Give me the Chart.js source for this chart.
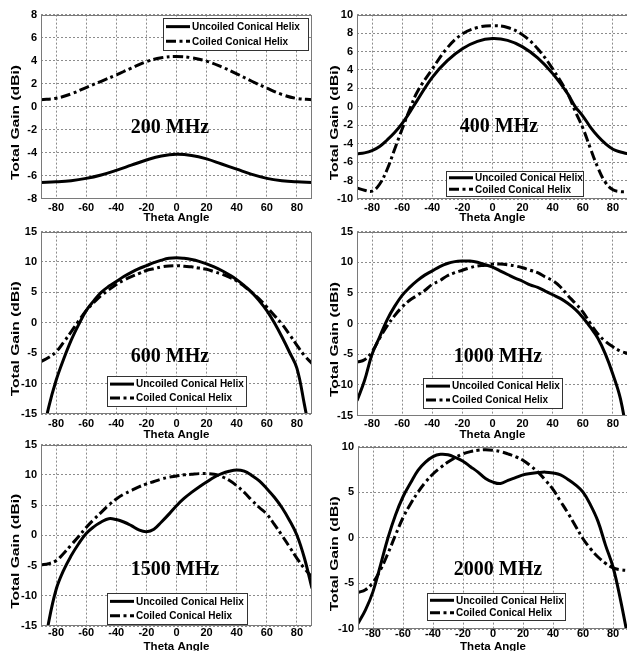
<!DOCTYPE html>
<html>
<head>
<meta charset="utf-8">
<script src="https://cdn.jsdelivr.net/npm/chart.js@4.4.1/dist/chart.umd.min.js"></script>
<style>
  html, body { margin:0; padding:0; background:#ffffff; }
  body { position:relative; width:627px; height:651px; overflow:hidden; }
  canvas { position:absolute; }
</style>
</head>
<body>
<script>
// ---------------- DATA ----------------
const seriesNames = ['Uncoiled Conical Helix', 'Coiled Conical Helix'];
const freqLabels = ['200 MHz', '400 MHz', '600 MHz', '1000 MHz', '1500 MHz', '2000 MHz'];
const xTitle = 'Theta Angle';
const yTitle = 'Total Gain (dBi)';
const xTickValues = [-80, -60, -40, -20, 0, 20, 40, 60, 80];
const xRange = [-90, 90];

const yTicks200 = [-8, -6, -4, -2, 0, 2, 4, 6, 8];
const yTicks400 = [-10, -8, -6, -4, -2, 0, 2, 4, 6, 8, 10];
const yTicks15 = [-15, -10, -5, 0, 5, 10, 15];
const yTicks2000 = [-10, -5, 0, 5, 10];

const theta200 = [-90, -80, -70, -60, -50, -40, -30, -20, -10, 0, 10, 20, 30, 40, 50, 60, 70, 80, 90];
const uncoiled200 = [-6.6, -6.55, -6.45, -6.25, -5.95, -5.55, -5.1, -4.65, -4.3, -4.15, -4.25, -4.55, -5.0, -5.45, -5.9, -6.25, -6.45, -6.55, -6.6];
const coiled200 = [0.6, 0.72, 1.1, 1.65, 2.2, 2.75, 3.35, 3.9, 4.25, 4.35, 4.25, 3.95, 3.45, 2.85, 2.2, 1.6, 1.05, 0.7, 0.6];

const theta400 = [-90, -85, -80, -75, -70, -65, -60, -55, -50, -40, -30, -20, -10, 0, 10, 20, 30, 40, 50, 55, 60, 65, 70, 75, 80, 85, 90];
const uncoiled400 = [-5.1, -5.0, -4.75, -4.3, -3.6, -2.8, -1.8, -0.6, 0.7, 3.2, 5.0, 6.3, 7.1, 7.4, 7.2, 6.5, 5.3, 3.6, 1.4, 0.0, -1.0, -2.2, -3.2, -4.0, -4.6, -4.9, -5.1];
const coiled400 = [-8.8, -9.05, -9.15, -8.4, -6.8, -4.6, -2.4, -0.3, 1.6, 4.1, 6.4, 7.9, 8.6, 8.8, 8.6, 7.8, 6.3, 4.1, 1.4, -0.5, -2.3, -4.5, -6.6, -8.2, -9.0, -9.2, -9.2];

const theta5 = [-90, -85, -80, -75, -70, -65, -60, -55, -50, -45, -40, -35, -30, -25, -20, -15, -10, -5, 0, 5, 10, 15, 20, 25, 30, 35, 40, 45, 50, 55, 60, 65, 70, 75, 80, 85, 90];

const uncoiled600 = [-20, -14, -9.5, -6.0, -2.9, -0.3, 2.0, 3.6, 5.0, 6.0, 6.8, 7.6, 8.3, 8.9, 9.4, 9.9, 10.3, 10.6, 10.7, 10.6, 10.4, 10.1, 9.7, 9.2, 8.6, 7.9, 7.1, 6.1, 5.0, 3.6, 2.0, 0.0, -2.3, -4.8, -7.5, -13.5, -20];
const coiled600 = [-6.4, -5.7, -4.8, -3.2, -1.5, 0.3, 2.0, 3.3, 4.5, 5.4, 6.3, 7.0, 7.6, 8.1, 8.6, 8.9, 9.2, 9.35, 9.4, 9.3, 9.2, 9.0, 8.8, 8.4, 8.0, 7.5, 6.9, 6.0, 5.0, 3.9, 2.6, 1.2, -0.2, -1.9, -3.7, -5.4, -6.7];

const uncoiled1000 = [-12.6, -9.3, -5.0, -2.2, 0.6, 2.8, 4.6, 5.9, 7.0, 7.9, 8.6, 9.3, 9.8, 10.1, 10.2, 10.2, 10.0, 9.6, 9.2, 8.6, 8.0, 7.4, 6.9, 6.3, 5.9, 5.3, 4.7, 4.1, 3.3, 2.3, 1.0, -0.6, -2.4, -5.0, -8.3, -12.3, -19];
const coiled1000 = [-6.3, -5.9, -4.6, -2.4, -0.4, 1.3, 2.7, 3.8, 4.6, 5.4, 6.4, 7.0, 7.8, 8.3, 8.7, 9.1, 9.4, 9.5, 9.7, 9.7, 9.6, 9.4, 9.1, 8.7, 8.3, 7.6, 7.0, 6.0, 4.6, 3.3, 1.9, 0.0, -1.7, -2.9, -3.8, -4.5, -4.9];

const uncoiled1500 = [-22, -14.5, -9.0, -5.8, -3.4, -1.4, 0.3, 1.4, 2.2, 2.75, 2.6, 2.2, 1.6, 0.9, 0.6, 1.0, 2.2, 3.5, 4.9, 6.1, 7.1, 8.0, 8.8, 9.6, 10.2, 10.6, 10.8, 10.6, 9.9, 9.0, 7.7, 6.3, 4.6, 2.5, 0.0, -3.8, -8.8];
const coiled1500 = [-4.9, -4.7, -4.2, -3.0, -1.6, -0.2, 1.3, 2.6, 3.8, 5.0, 6.0, 6.8, 7.4, 8.0, 8.5, 8.9, 9.3, 9.6, 9.8, 10.0, 10.1, 10.2, 10.2, 10.1, 9.7, 9.1, 8.2, 7.1, 5.8, 4.6, 3.5, 1.8, 0.0, -1.9, -3.8, -5.5, -6.9];

const uncoiled2000 = [-9.4, -7.9, -5.9, -3.0, 0.0, 2.5, 4.5, 6.0, 7.4, 8.3, 8.9, 9.15, 9.1, 8.8, 8.4, 7.8, 7.2, 6.5, 6.1, 5.95, 6.3, 6.6, 6.9, 7.05, 7.15, 7.2, 7.1, 6.9, 6.4, 5.8, 5.0, 3.6, 1.8, -0.8, -3.2, -6.8, -11];
const coiled2000 = [-6.0, -5.7, -4.9, -3.5, -1.7, 0.3, 2.2, 3.7, 5.0, 6.1, 7.0, 7.7, 8.3, 8.8, 9.2, 9.45, 9.6, 9.65, 9.6, 9.45, 9.2, 8.9, 8.5, 7.9, 7.2, 6.3, 5.3, 4.0, 2.7, 1.3, -0.1, -1.2, -2.1, -2.8, -3.3, -3.5, -3.6];

const panelData = [
  { theta: theta200, u: uncoiled200, c: coiled200, yTicks: yTicks200, name: freqLabels[0] },
  { theta: theta400, u: uncoiled400, c: coiled400, yTicks: yTicks400, name: freqLabels[1] },
  { theta: theta5, u: uncoiled600, c: coiled600, yTicks: yTicks15, name: freqLabels[2] },
  { theta: theta5, u: uncoiled1000, c: coiled1000, yTicks: yTicks15, name: freqLabels[3] },
  { theta: theta5, u: uncoiled1500, c: coiled1500, yTicks: yTicks15, name: freqLabels[4] },
  { theta: theta5, u: uncoiled2000, c: coiled2000, yTicks: yTicks2000, name: freqLabels[5] }
];

// ---------------- LAYOUT (page pixels) ----------------
const layout = [
  { col: 0, plot: [41, 14, 312, 198.5], tickY: 207.5, titleY: 218, yTitleX: 16, label: [170, 128], legend: [163, 18, 145, 32] },
  { col: 1, plot: [357, 14, 628, 199], tickY: 208, titleY: 218, yTitleX: 335, label: [499, 127], legend: [446, 171, 137, 25] },
  { col: 0, plot: [41, 231, 312, 414], tickY: 423.5, titleY: 435, yTitleX: 16, label: [170, 357], legend: [107, 376, 139, 30] },
  { col: 1, plot: [357, 231, 628, 415.5], tickY: 424, titleY: 435, yTitleX: 335, label: [498, 357], legend: [423, 378, 139, 30] },
  { col: 0, plot: [41, 444, 312, 626], tickY: 633, titleY: 646.5, yTitleX: 16, label: [175, 570], legend: [107, 593, 140, 31] },
  { col: 1, plot: [358, 446, 628, 629], tickY: 634, titleY: 646.5, yTitleX: 335, label: [498, 570], legend: [427, 593, 138, 27] }
];

const SANS = '"Liberation Sans", Arial, sans-serif';
const SERIF = '"Liberation Serif", "Times New Roman", serif';
const TICK_SIZE = 11;
const TITLE_SIZE = 11.5;
const DASHDOT = [10, 3.5, 3, 3.5];

const overlayPlugin = {
  id: 'overlay',
  afterDraw(chart, args, o) {
    const ctx = chart.ctx;
    const a = chart.chartArea;
    ctx.save();
    // axes frame
    ctx.setLineDash([]);
    ctx.strokeStyle = '#7a7a7a';
    ctx.lineWidth = 1;
    const l = Math.round(a.left) + 0.5, t = Math.round(a.top) + 0.5;
    const r = Math.round(a.right) - 0.5, b = Math.round(a.bottom) - 0.5;
    ctx.strokeRect(l, t, r - l, b - t);

    // frequency label
    ctx.fillStyle = '#000';
    ctx.font = 'bold 20px ' + SERIF;
    ctx.textAlign = 'center';
    ctx.textBaseline = 'middle';
    ctx.fillText(o.freq, o.labelX, o.labelY);

    // y title (stretched along its length)
    ctx.save();
    ctx.translate(o.yTitleX, (a.top + a.bottom) / 2 + 16);
    ctx.rotate(-Math.PI / 2);
    ctx.font = 'bold 11px ' + SANS;
    const w = ctx.measureText(yTitle).width;
    ctx.scale(115 / w, 1);
    ctx.fillText(yTitle, 0, 0);
    ctx.restore();

    // legend
    const [lx, ly, lw, lh] = o.legend;
    ctx.fillStyle = '#fff';
    ctx.fillRect(lx, ly, lw, lh);
    ctx.strokeStyle = '#333';
    ctx.lineWidth = 1;
    ctx.strokeRect(Math.round(lx) + 0.5, Math.round(ly) + 0.5, Math.round(lw), Math.round(lh));
    const rows = [ly + lh * 0.27, ly + lh * 0.73];
    chart.data.datasets.forEach((ds, i) => {
      ctx.strokeStyle = '#000';
      ctx.lineWidth = 3;
      ctx.setLineDash(ds.borderDash || []);
      ctx.beginPath();
      ctx.moveTo(lx + 3, rows[i]);
      ctx.lineTo(lx + 27, rows[i]);
      ctx.stroke();
      ctx.setLineDash([]);
      ctx.fillStyle = '#000';
      ctx.font = 'bold 10px ' + SANS;
      ctx.textAlign = 'left';
      ctx.textBaseline = 'middle';
      ctx.fillText(ds.label, lx + 29, rows[i] + 0.5);
    });
    ctx.restore();
  }
};

function buildPanel(i) {
  const d = panelData[i];
  const L = layout[i];
  const [pl, pt, pr, pb] = L.plot;
  const cx = L.col === 0 ? 0 : 313;
  const cy = Math.floor(pt - 10);
  const titleLH = TITLE_SIZE * 1.2;
  const tickLH = TICK_SIZE * 1.2;
  const cBottom = Math.ceil(L.titleY + titleLH / 2 + 1);
  const cw = Math.ceil(pr + 4) - cx;
  const ch = cBottom - cy;

  const xAxisH = cBottom - pb;
  const yAxisW = pl - cx;
  const padTop = pt - cy;
  const padRight = (cx + cw) - pr;
  const tickPad = L.tickY - pb - tickLH / 2;
  const titlePadBottom = cBottom - L.titleY - titleLH / 2;

  const cv = document.createElement('canvas');
  cv.width = cw; cv.height = ch;
  cv.style.left = cx + 'px'; cv.style.top = cy + 'px';
  cv.style.width = cw + 'px'; cv.style.height = ch + 'px';
  document.body.appendChild(cv);

  const toPts = (arr) => d.theta.map((t, k) => ({ x: t, y: arr[k] }));
  const tickFont = { family: SANS, weight: 'bold', size: TICK_SIZE, lineHeight: 1.2 };
  const lineStyle = { borderColor: '#000', borderWidth: 3, pointRadius: 0, pointHoverRadius: 0,
                      fill: false, tension: 0.4, clip: 0, borderCapStyle: 'butt', borderJoinStyle: 'round' };

  new Chart(cv, {
    type: 'line',
    data: {
      datasets: [
        Object.assign({ label: seriesNames[0], data: toPts(d.u) }, lineStyle),
        Object.assign({ label: seriesNames[1], data: toPts(d.c), borderDash: DASHDOT }, lineStyle)
      ]
    },
    options: {
      responsive: false,
      animation: false,
      devicePixelRatio: 1,
      events: [],
      layout: { padding: { left: 0, top: padTop, right: padRight, bottom: 0 } },
      plugins: {
        legend: { display: false },
        tooltip: { enabled: false },
        overlay: {
          freq: d.name,
          labelX: L.label[0] - cx, labelY: L.label[1] - cy,
          yTitleX: L.yTitleX - cx,
          legend: [L.legend[0] - cx, L.legend[1] - cy, L.legend[2], L.legend[3]]
        }
      },
      scales: {
        x: {
          type: 'linear', position: 'bottom', min: xRange[0], max: xRange[1],
          afterBuildTicks: (s) => { s.ticks = xTickValues.map(v => ({ value: v })); },
          afterFit: (s) => { s.height = xAxisH; },
          grid: { color: '#8c8c8c', lineWidth: 1, drawTicks: false },
          border: { display: false, dash: [2, 2] },
          ticks: { color: '#000', font: tickFont, padding: tickPad, maxRotation: 0, autoSkip: false },
          title: { display: true, text: xTitle, color: '#000',
                   font: { family: SANS, weight: 'bold', size: TITLE_SIZE, lineHeight: 1.2 },
                   padding: { top: 0, bottom: titlePadBottom } }
        },
        y: {
          type: 'linear', position: 'left', min: d.yTicks[0], max: d.yTicks[d.yTicks.length - 1],
          afterBuildTicks: (s) => { s.ticks = d.yTicks.map(v => ({ value: v })); },
          afterFit: (s) => { s.width = yAxisW; },
          grid: { color: '#8c8c8c', lineWidth: 1, drawTicks: false },
          border: { display: false, dash: [2, 2] },
          ticks: { color: '#000', font: tickFont, padding: 4, autoSkip: false },
          title: { display: false }
        }
      }
    },
    plugins: [overlayPlugin]
  });
}

for (let i = 0; i < panelData.length; i++) buildPanel(i);
</script>
</body>
</html>
